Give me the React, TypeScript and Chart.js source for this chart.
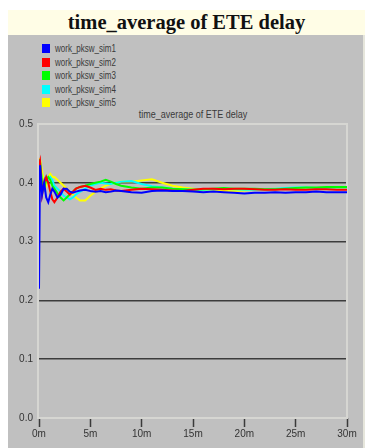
import React, { useEffect, useRef } from "react";
import { Chart, registerables } from "chart.js";

Chart.register(...registerables);

const chartTitle = "time_average of ETE delay";
const seriesNames = ["work_pksw_sim1", "work_pksw_sim2", "work_pksw_sim3", "work_pksw_sim4", "work_pksw_sim5"];
const seriesColors = ["#0000ff", "#ff0000", "#00ff00", "#00ffff", "#ffff00"];

// time in minutes
const times = [0, 0.1, 0.3, 0.5, 0.7, 0.9, 1.1, 1.3, 1.5, 1.8, 2.1, 2.4, 2.7, 3.0, 3.3, 3.6, 4.0, 4.5, 5.0, 5.5, 6.0, 6.5, 7.0, 7.5, 8.0, 9.0, 10, 11, 12, 13, 14, 15, 16, 17, 18, 19, 20, 21, 22, 23, 24, 25, 26, 27, 28, 29, 30];

const sim1 = [0.22, 0.43, 0.38, 0.40, 0.375, 0.367, 0.38, 0.39, 0.385, 0.375, 0.38, 0.39, 0.39, 0.385, 0.383, 0.385, 0.387, 0.388, 0.386, 0.385, 0.386, 0.384, 0.385, 0.387, 0.386, 0.384, 0.383, 0.386, 0.387, 0.386, 0.386, 0.385, 0.384, 0.385, 0.384, 0.383, 0.382, 0.383, 0.383, 0.384, 0.383, 0.384, 0.384, 0.385, 0.384, 0.384, 0.384];
const sim2 = [0.43, 0.437, 0.38, 0.40, 0.41, 0.40, 0.385, 0.372, 0.367, 0.375, 0.385, 0.39, 0.385, 0.38, 0.385, 0.39, 0.393, 0.395, 0.392, 0.388, 0.39, 0.388, 0.389, 0.387, 0.386, 0.388, 0.39, 0.389, 0.388, 0.387, 0.386, 0.388, 0.39, 0.39, 0.389, 0.39, 0.39, 0.389, 0.388, 0.388, 0.389, 0.388, 0.388, 0.389, 0.389, 0.388, 0.388];
const sim3 = [0.44, 0.435, 0.40, 0.39, 0.405, 0.41, 0.405, 0.395, 0.39, 0.382, 0.375, 0.37, 0.375, 0.38, 0.385, 0.39, 0.393, 0.395, 0.398, 0.4, 0.402, 0.405, 0.402, 0.398, 0.395, 0.392, 0.39, 0.392, 0.392, 0.39, 0.389, 0.388, 0.389, 0.39, 0.391, 0.39, 0.39, 0.39, 0.389, 0.389, 0.39, 0.391, 0.392, 0.392, 0.393, 0.393, 0.393];
const sim4 = [0.43, 0.435, 0.40, 0.39, 0.41, 0.405, 0.41, 0.405, 0.395, 0.39, 0.385, 0.378, 0.375, 0.372, 0.375, 0.38, 0.385, 0.39, 0.395, 0.398, 0.4, 0.399, 0.398, 0.4, 0.402, 0.403, 0.398, 0.394, 0.392, 0.39, 0.389, 0.388, 0.388, 0.389, 0.39, 0.389, 0.388, 0.388, 0.389, 0.39, 0.391, 0.392, 0.392, 0.391, 0.391, 0.392, 0.392];
const sim5 = [0.44, 0.44, 0.42, 0.40, 0.395, 0.41, 0.415, 0.41, 0.41, 0.405, 0.40, 0.395, 0.39, 0.385, 0.38, 0.375, 0.37, 0.37, 0.378, 0.385, 0.39, 0.395, 0.398, 0.4, 0.402, 0.402, 0.404, 0.406, 0.4, 0.395, 0.392, 0.39, 0.388, 0.387, 0.386, 0.386, 0.387, 0.388, 0.389, 0.39, 0.39, 0.391, 0.39, 0.391, 0.391, 0.392, 0.392];

const seriesValues = [sim1, sim2, sim3, sim4, sim5];

const xTicks = [0, 5, 10, 15, 20, 25, 30];
const yTicks = [0, 0.1, 0.2, 0.3, 0.4, 0.5];

const framePlugin = {
  id: "frame",
  beforeDatasetsDraw(chart: any) {
    const { ctx, chartArea } = chart;
    ctx.save();
    ctx.strokeStyle = "#d6d6d2";
    ctx.lineWidth = 2;
    ctx.strokeRect(chartArea.left - 1, chartArea.top, chartArea.right - chartArea.left + 1, chartArea.bottom - chartArea.top);
    ctx.restore();
  },
};

export default function App() {
  const ref = useRef<HTMLCanvasElement>(null);

  useEffect(() => {
    if (!ref.current) return;
    const chart = new Chart(ref.current, {
      type: "line",
      data: {
        datasets: seriesNames.map((name, i) => ({
          label: name,
          data: times.map((t, j) => ({ x: t, y: seriesValues[i][j] })),
          borderColor: seriesColors[i],
          backgroundColor: seriesColors[i],
          borderWidth: 2,
          pointRadius: 0,
          tension: 0,
          fill: false,
        })),
      },
      options: {
        responsive: false,
        animation: false,
        layout: { padding: { top: 89, right: 16, left: 0, bottom: 0 } },
        plugins: { legend: { display: false }, title: { display: false }, tooltip: { enabled: false } },
        scales: {
          x: {
            type: "linear",
            min: 0,
            max: 30,
            afterBuildTicks: (s: any) => { s.ticks = xTicks.map((v) => ({ value: v })); },
            afterFit: (s: any) => { s.height = 30; },
            border: { display: false },
            grid: { drawOnChartArea: false, drawTicks: true, tickLength: 9, tickColor: "#3a3a3a", tickWidth: 1.5 },
            ticks: {
              padding: 1,
              color: "#333",
              font: { family: "'Liberation Sans', Arial", size: 10 },
              callback: (v: any) => `${v}m`,
              maxRotation: 0,
            },
          },
          y: {
            min: 0,
            max: 0.5,
            afterBuildTicks: (s: any) => { s.ticks = yTicks.map((v) => ({ value: v })); },
            afterFit: (s: any) => { s.width = 31; },
            border: { display: false },
            grid: {
              drawTicks: false,
              lineWidth: 1.5,
              color: (c: any) => {
                const v = c.tick ? c.tick.value : 0;
                return Math.abs(v) < 1e-6 || Math.abs(v - 0.5) < 1e-6 ? "rgba(0,0,0,0)" : "#3c3c3c";
              },
            },
            ticks: {
              padding: 6,
              color: "#333",
              font: { family: "'Liberation Sans', Arial", size: 10 },
              callback: (v: any) => Number(v).toFixed(1),
            },
          },
        },
      },
      plugins: [framePlugin],
    } as any);
    return () => chart.destroy();
  }, []);

  return (
    <div style={{ position: "absolute", left: 0, top: 0, width: 374, height: 448, background: "#fff", overflow: "hidden" }}>
      <div
        style={{
          position: "absolute", left: 8, top: 10, width: 357, height: 25, background: "#fffde6",
          fontFamily: "'Liberation Serif', 'Times New Roman', serif", fontWeight: "bold", fontSize: 20.5,
          color: "#111", textAlign: "center", lineHeight: "25px",
        }}
      >
        {chartTitle}
      </div>
      <div style={{ position: "absolute", left: 8, top: 35, width: 355, height: 413, background: "#c0c0c0" }} />
      <div style={{ position: "absolute", left: 363, top: 35, width: 2, height: 413, background: "#e6e6dc" }} />
      <div style={{ position: "absolute", left: 42, top: 42, fontFamily: "'Liberation Sans', Arial", fontSize: 10, color: "#3a3a3a" }}>
        {seriesNames.map((n, i) => (
          <div key={n} style={{ display: "flex", alignItems: "center", height: 13.5 }}>
            <span style={{ display: "inline-block", width: 8, height: 9, background: seriesColors[i], marginRight: 5 }} />
            <span style={{ display: "inline-block", transform: "scaleX(0.8)", transformOrigin: "left center" }}>{n}</span>
          </div>
        ))}
      </div>
      <div
        style={{
          position: "absolute", left: 39, width: 308, top: 109, textAlign: "center",
          fontFamily: "'Liberation Sans', Arial", fontSize: 10, color: "#3a3a3a",
          transform: "scaleX(0.9)", transformOrigin: "center",
        }}
      >
        {chartTitle}
      </div>
      <canvas ref={ref} width={355} height={413} style={{ position: "absolute", left: 8, top: 35 }} />
    </div>
  );
}
